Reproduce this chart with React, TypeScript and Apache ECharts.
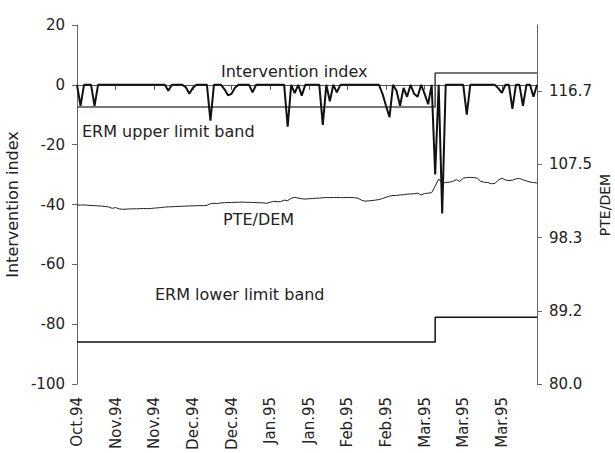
import React, { useEffect, useRef } from 'react';
import * as echarts from 'echarts';

// x-axis tick labels (one every 11 trading days)
const xTickLabels = ['Oct.94', 'Nov.94', 'Nov.94', 'Dec.94', 'Dec.94', 'Jan.95', 'Jan.95', 'Feb.95', 'Feb.95', 'Mar.95', 'Mar.95', 'Mar.95'];
const pointsPerTick = 11;

// Intervention index (left axis), daily
const interventionIndex = [
  0, -7, 0, 0, 0, -7, 0, 0, 0, 0,
  0, 0, 0, 0, 0, 0, 0, 0, 0, 0,
  0, 0, 0, 0, 0, 0, -2, 0, 0, 0,
  0, -0.8, -3, -1, 0, 0, 0, 0, -12, 0,
  0, 0, -1.5, -3.5, -3, -1, 0, 0, 0, 0,
  -2.5, 0, 0, 0, 0, 0, 0, 0, 0, 0,
  -14, 0, -2.8, 0, -3.6, 0, 0, 0, 0, 0,
  -13.4, 0, -5.5, 0, -2.5, 0, 0, 0, 0, 0,
  0, 0, 0, 0, 0, 0, 0, -3, -7, -10.8,
  0, -2, -7, -1, -4, 0, -3, -4, 0, -3,
  -6.5, 0, -30, 0, -43, 0, 0, 0, 0, 0,
  0, -10, 0, 0, 0, 0, 0, 0, 0, 0,
  -1.2, -2.7, 0, 0, -8, 0, 0, -7, 0, 0,
  -4, 0,
];

// PTE/DEM exchange rate (right axis), daily
const pteDem = [
  102.44, 102.42, 102.45, 102.40, 102.38, 102.35, 102.33, 102.30, 102.25, 102.20,
  102.02, 102.12, 101.95, 101.90, 101.92, 101.95, 101.96, 101.95, 101.98, 102.00,
  101.98, 102.00, 102.05, 102.08, 102.12, 102.18, 102.20, 102.22, 102.24, 102.26,
  102.28, 102.30, 102.32, 102.33, 102.35, 102.36, 102.35, 102.40, 102.60, 102.65,
  102.62, 102.70, 102.72, 102.74, 102.76, 102.78, 102.78, 102.80, 102.78, 102.77,
  102.76, 102.74, 102.72, 102.70, 102.65, 102.78, 102.90, 102.85, 102.86, 103.05,
  102.98, 103.28, 103.40, 103.30, 103.22, 103.18, 103.22, 103.25, 103.28, 103.30,
  103.34, 103.38, 103.36, 103.38, 103.38, 103.37, 103.36, 103.38, 103.37, 103.35,
  103.30, 103.05, 102.92, 102.95, 103.00, 103.05, 103.12, 103.25, 103.40, 103.55,
  103.62, 103.64, 103.70, 103.72, 103.80, 103.82, 103.85, 103.92, 103.70, 103.88,
  103.92, 103.98, 104.80, 105.70, 105.16, 105.25, 105.30, 105.38, 105.62, 105.40,
  105.80, 105.88, 105.90, 105.88, 105.80, 105.40, 105.28, 105.25, 105.10, 105.15,
  105.55, 105.80, 105.58, 105.50, 105.55, 105.72, 105.78, 105.60, 105.45, 105.32,
  105.25, 105.20,
];

// ERM bands (right axis): [day index, PTE/DEM]
const upperBand = [[0, 114.72], [102, 114.72], [102, 118.98], [131, 118.98]];
const lowerBand = [[0, 85.28], [102, 85.28], [102, 88.36], [131, 88.36]];

// axis ticks
const leftMin = -100;
const leftMax = 20;
const leftInterval = 20;
const rightMin = 80;
const rightMax = 125;
const rightTickValues = [80, 89.175, 98.35, 107.525, 116.7];
const rightTickLabels = ['80.0', '89.2', '98.3', '107.5', '116.7'];

const FONT = "'DejaVu Sans', sans-serif";

export default function App() {
  const ref = useRef<HTMLDivElement>(null);

  useEffect(() => {
    if (!ref.current) return;
    const chart = echarts.init(ref.current, undefined, { renderer: 'svg' });

    const categories = interventionIndex.map((_, i) =>
      i % pointsPerTick === 0 && i / pointsPerTick < xTickLabels.length ? xTickLabels[i / pointsPerTick] : ''
    );
    const showTick = (i: number) => i % pointsPerTick === 0 && i / pointsPerTick < xTickLabels.length;

    chart.setOption({
      animation: false,
      backgroundColor: '#ffffff',
      grid: { left: 77, right: 78, top: 25, bottom: 69, containLabel: false, outerBoundsMode: 'none' },
      xAxis: {
        type: 'category',
        data: categories,
        boundaryGap: false,
        axisLine: { lineStyle: { color: '#555', width: 1 } },
        axisTick: { show: true, interval: showTick, length: 5, inside: false, lineStyle: { color: '#555' } },
        axisLabel: {
          interval: showTick,
          rotate: 90,
          margin: 13,
          fontSize: 15,
          fontFamily: FONT,
          color: '#222',
        },
        splitLine: { show: false },
      },
      yAxis: [
        {
          type: 'value',
          position: 'left',
          min: leftMin,
          max: leftMax,
          interval: leftInterval,
          name: 'Intervention index',
          nameLocation: 'middle',
          nameRotate: 90,
          nameGap: 46,
          nameTextStyle: { fontSize: 16, fontFamily: FONT, color: '#222' },
          axisLine: { show: true, lineStyle: { color: '#666', width: 1 } },
          axisTick: { show: true, length: 5, lineStyle: { color: '#666' } },
          axisLabel: { fontSize: 15, fontFamily: FONT, color: '#222', margin: 12 },
          splitLine: { show: false },
        },
        {
          type: 'value',
          position: 'right',
          min: rightMin,
          max: rightMax,
          axisLine: { show: true, lineStyle: { color: '#666', width: 1 } },
          axisTick: { show: true, length: 5, lineStyle: { color: '#666' }, customValues: rightTickValues },
          axisLabel: {
            fontSize: 15,
            fontFamily: FONT,
            color: '#222',
            margin: 12,
            customValues: rightTickValues,
            formatter: (v: number) => {
              const k = rightTickValues.findIndex((t) => Math.abs(t - v) < 1e-6);
              return k >= 0 ? rightTickLabels[k] : '';
            },
          },
          splitLine: { show: false },
        },
      ],
      series: [
        {
          name: 'ERM upper limit band',
          type: 'line',
          yAxisIndex: 1,
          data: upperBand,
          symbol: 'none',
          lineStyle: { color: '#4a4a4a', width: 1.6 },
          z: 2,
        },
        {
          name: 'ERM lower limit band',
          type: 'line',
          yAxisIndex: 1,
          data: lowerBand,
          symbol: 'none',
          lineStyle: { color: '#111', width: 1.5 },
          z: 2,
        },
        {
          name: 'PTE/DEM',
          type: 'line',
          yAxisIndex: 1,
          data: pteDem,
          symbol: 'none',
          lineStyle: { color: '#222', width: 1 },
          z: 3,
        },
        {
          name: 'Intervention index',
          type: 'line',
          yAxisIndex: 0,
          data: interventionIndex,
          symbol: 'none',
          lineStyle: { color: '#111', width: 2 },
          z: 4,
        },
      ],
      graphic: [
        { type: 'text', x: 221, y: 71, style: { text: 'Intervention index', fontSize: 16, fontFamily: FONT, fill: '#222', verticalAlign: 'middle' } },
        { type: 'text', x: 82, y: 131, style: { text: 'ERM upper limit band', fontSize: 16, fontFamily: FONT, fill: '#222', verticalAlign: 'middle' } },
        { type: 'text', x: 223, y: 219, style: { text: 'PTE/DEM', fontSize: 16, fontFamily: FONT, fill: '#222', verticalAlign: 'middle' } },
        { type: 'text', x: 155, y: 294, style: { text: 'ERM lower limit band', fontSize: 16, fontFamily: FONT, fill: '#222', verticalAlign: 'middle' } },
        {
          type: 'text',
          x: 605,
          y: 205,
          rotation: Math.PI / 2,
          style: { text: 'PTE/DEM', fontSize: 14, fontFamily: FONT, fill: '#222', align: 'center', verticalAlign: 'middle' },
        },
      ],
    });

    return () => chart.dispose();
  }, []);

  return (
    <div
      ref={ref}
      style={{ position: 'fixed', left: 0, top: 0, width: 615, height: 453, background: '#fff' }}
    />
  );
}
